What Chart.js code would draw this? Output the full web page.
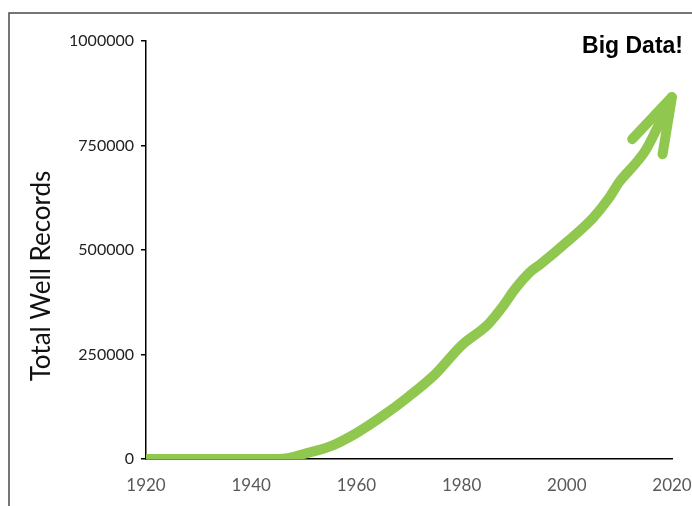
<!DOCTYPE html>
<html>
<head>
<meta charset="utf-8">
<script src="https://cdn.jsdelivr.net/npm/chart.js@4"></script>
<style>
  html, body { margin: 0; padding: 0; background: #ffffff; }
  #wrap { width: 692px; height: 506px; position: relative; }
</style>
</head>
<body>
<div id="wrap"><canvas id="c" width="692" height="506"></canvas></div>
<script>
// Cumulative well records by year
const years = [1920, 1930, 1940, 1945, 1947, 1950, 1955, 1960, 1965, 1970, 1975, 1980, 1985, 1988, 1990, 1993, 1995, 2000, 2005, 2008, 2010, 2013, 2015, 2017, 2020];
const records = [0, 0, 0, 0, 2000, 12000, 30000, 62000, 103000, 150000, 203000, 272000, 322000, 368000, 404000, 447000, 466000, 519000, 577000, 624000, 663000, 706000, 739000, 787000, 866000];
const yTicks = [0, 250000, 500000, 750000, 1000000];
const xTicks = [1920, 1940, 1960, 1980, 2000, 2020];
const yTitle = 'Total Well Records';
const callout = 'Big Data!';

const GREEN = '#8fc74f';

const points = years.map((yr, i) => ({ x: yr, y: records[i] }));

// Frame, callout text, axis title and the arrowhead at the end of the line
const decor = {
  id: 'decor',
  beforeDraw(chart) {
    const ctx = chart.ctx;
    ctx.save();
    ctx.fillStyle = '#ffffff';
    ctx.fillRect(0, 0, chart.width, chart.height);
    ctx.restore();
  },
  afterDraw(chart) {
    const ctx = chart.ctx;
    const area = chart.chartArea;
    ctx.save();
    // frame (top and left edges)
    ctx.strokeStyle = '#4a4a4a';
    ctx.lineWidth = 1.5;
    ctx.beginPath();
    ctx.moveTo(chart.width, 13);
    ctx.lineTo(9, 13);
    ctx.lineTo(9, chart.height);
    ctx.stroke();

    // callout
    ctx.fillStyle = '#000000';
    ctx.font = 'bold 23px "Liberation Sans", Arial, sans-serif';
    ctx.textAlign = 'right';
    ctx.textBaseline = 'middle';
    ctx.fillText(callout, 683, 47);

    // vertical axis title
    ctx.translate(42, (area.top + area.bottom) / 2 + 26);
    ctx.rotate(-Math.PI / 2);
    ctx.textAlign = 'center';
    ctx.textBaseline = 'middle';
    ctx.fillStyle = '#111111';
    ctx.font = '26px Lato, "Open Sans", sans-serif';
    ctx.fillText(yTitle, 0, 0);
    ctx.restore();
  },
  afterDatasetsDraw(chart) {
    const meta = chart.getDatasetMeta(0);
    const n = meta.data.length;
    const tip = meta.data[n - 1];
    const prev = meta.data[n - 3];
    const ang = Math.atan2(prev.y - tip.y, prev.x - tip.x);
    const len = 58;
    const spread = 17 * Math.PI / 180;
    const ctx = chart.ctx;
    ctx.save();
    ctx.strokeStyle = GREEN;
    ctx.lineWidth = 10;
    ctx.lineCap = 'round';
    ctx.lineJoin = 'round';
    ctx.beginPath();
    ctx.moveTo(tip.x + Math.cos(ang + spread) * len, tip.y + Math.sin(ang + spread) * len);
    ctx.lineTo(tip.x, tip.y);
    ctx.lineTo(tip.x + Math.cos(ang - spread) * len, tip.y + Math.sin(ang - spread) * len);
    ctx.stroke();
    ctx.restore();
  }
};

new Chart(document.getElementById('c'), {
  type: 'line',
  data: {
    datasets: [{
      data: points,
      borderColor: GREEN,
      backgroundColor: GREEN,
      borderWidth: 10,
      borderCapStyle: 'round',
      borderJoinStyle: 'round',
      pointRadius: 0,
      fill: false,
      cubicInterpolationMode: 'monotone'
    }]
  },
  options: {
    responsive: false,
    animation: false,
    devicePixelRatio: 1,
    layout: { padding: { left: 0, right: 20, top: 41, bottom: 0 } },
    plugins: { legend: { display: false }, tooltip: { enabled: false } },
    scales: {
      x: {
        type: 'linear',
        min: 1920,
        max: 2020,
        afterBuildTicks(scale) { scale.ticks = xTicks.map(v => ({ value: v })); },
        afterFit(scale) { scale.height = 47; scale.paddingLeft = 0; scale.paddingRight = 0; },
        grid: { display: false },
        border: { display: true, color: '#000000', width: 1.5 },
        ticks: {
          padding: 8,
          color: '#595959',
          font: { family: 'Lato, "Open Sans", sans-serif', size: 17 },
          callback: v => String(v),
          maxRotation: 0
        }
      },
      y: {
        min: 0,
        max: 1000000,
        afterBuildTicks(scale) { scale.ticks = yTicks.map(v => ({ value: v })); },
        afterFit(scale) { scale.width = 146; scale.paddingTop = 0; scale.paddingBottom = 0; },
        grid: { drawOnChartArea: false, drawTicks: true, tickLength: 5, color: '#000000', lineWidth: 1.5 },
        border: { display: true, color: '#000000', width: 1.5 },
        ticks: {
          padding: 7,
          color: '#222222',
          font: { family: 'Lato, "Open Sans", sans-serif', size: 16 },
          callback: v => String(v)
        }
      }
    }
  },
  plugins: [decor]
});
</script>
</body>
</html>
